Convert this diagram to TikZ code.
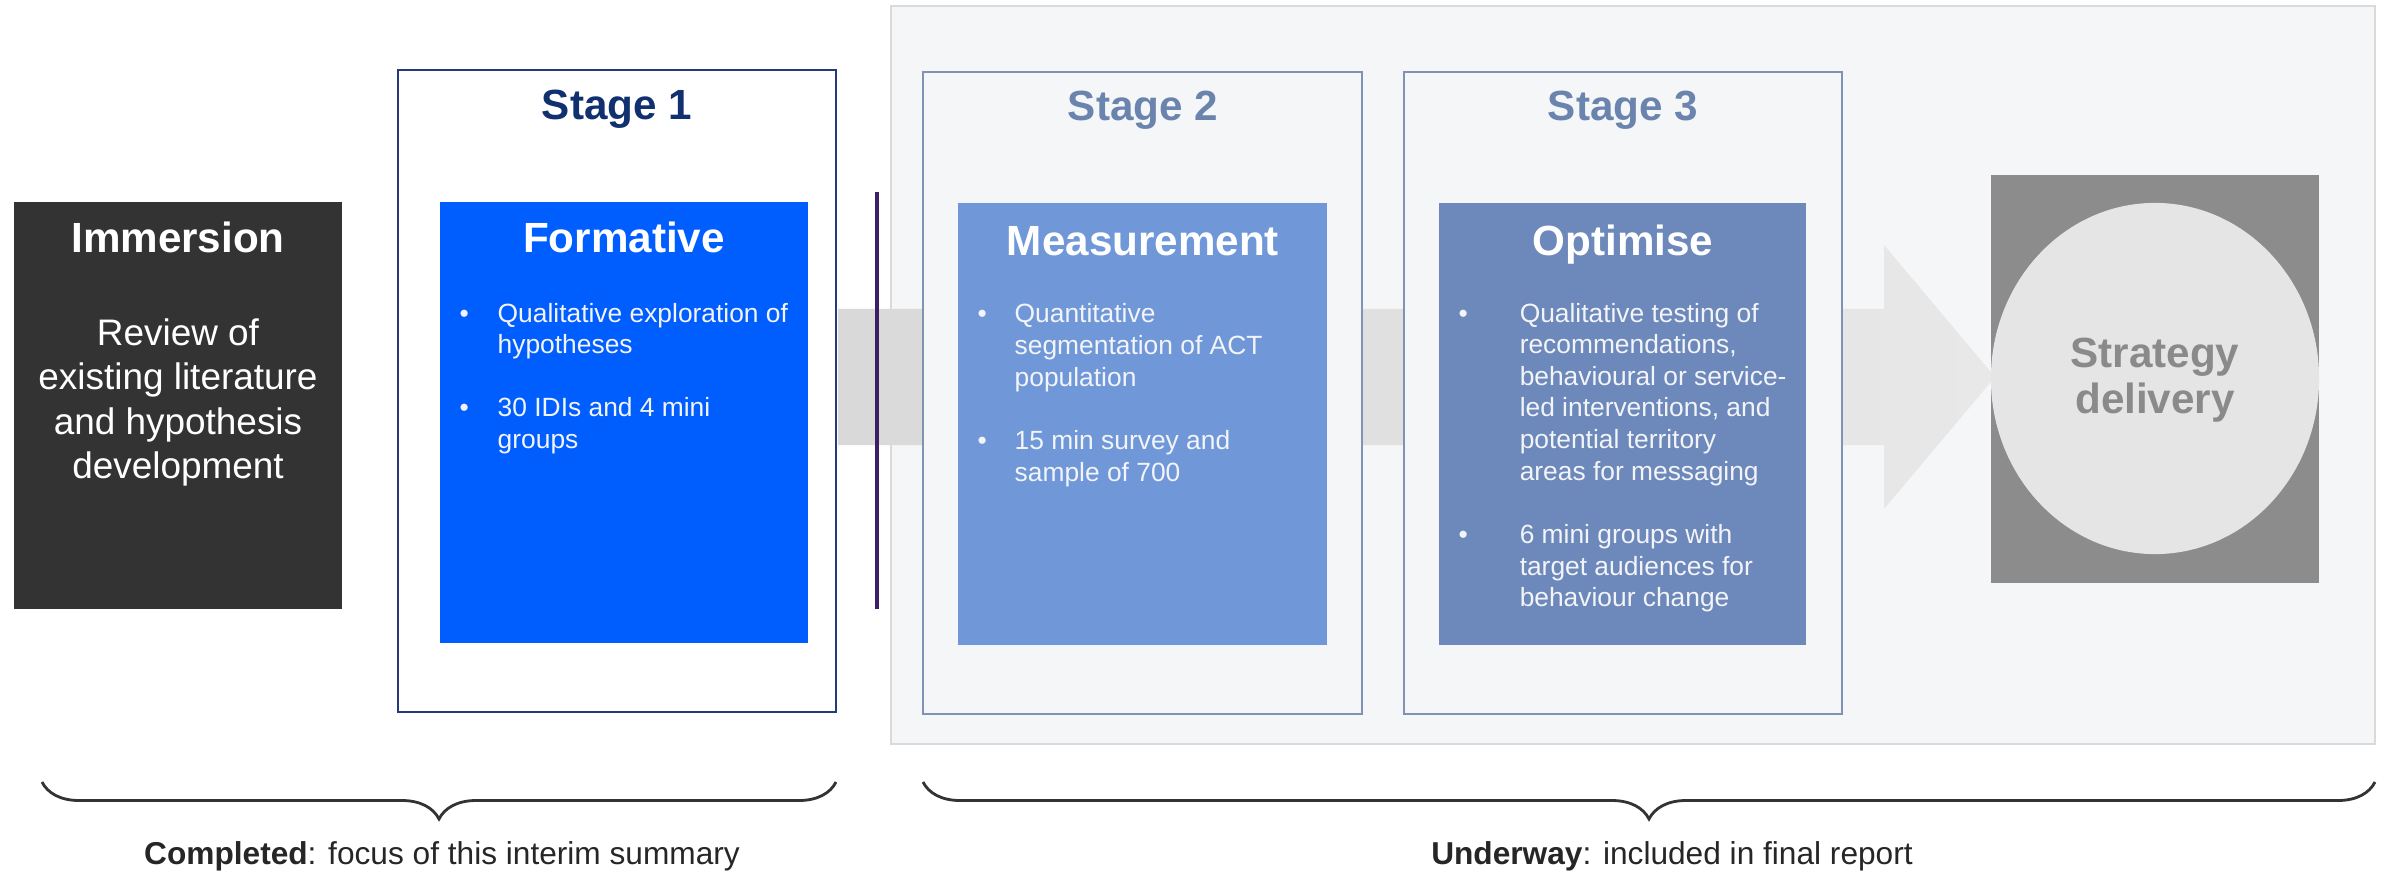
\documentclass[tikz,border=0pt]{standalone}
\usepackage{fontspec}
\setmainfont{Liberation Sans}
\usetikzlibrary{decorations.pathreplacing}

\definecolor{immgrey}{HTML}{333333}
\definecolor{formblue}{HTML}{005EFF}
\definecolor{navy}{HTML}{10306F}
\definecolor{navyline}{HTML}{26397A}
\definecolor{stagegrey}{HTML}{6A84AE}
\definecolor{stageline}{HTML}{8093B4}
\definecolor{measblue}{HTML}{7098D8}
\definecolor{optblue}{HTML}{6D88BA}
\definecolor{panelfill}{HTML}{F5F6F7}
\definecolor{panelline}{HTML}{DADADA}
\definecolor{banddark}{HTML}{D9D9D9}
\definecolor{bandlight}{HTML}{E8E8E8}
\definecolor{stratgrey}{HTML}{8C8C8C}
\definecolor{stratlight}{HTML}{E5E5E5}
\definecolor{stratText}{HTML}{8A8A8A}
\definecolor{divider}{HTML}{3D2060}
\definecolor{listwhite}{HTML}{F2F4F8}

\newcommand{\titlefont}{\fontsize{12}{13.2}\selectfont\bfseries}
\newcommand{\listfont}{\fontsize{7.5}{9}\selectfont}
\newcommand{\bodyfont}{\fontsize{10.5}{12.7}\selectfont}
\newcommand{\notefont}{\fontsize{9}{11}\selectfont}

\begin{document}
\begin{tikzpicture}[x=0.01cm,y=-0.01cm,
    title/.style={font=\titlefont, anchor=base, inner sep=0pt},
    list/.style={font=\listfont, text=listwhite, anchor=base west, inner sep=0pt},
    note/.style={font=\notefont, text=black!85, anchor=base, inner sep=0pt},
    frame/.style={line width=0.8pt}]
  \useasboundingbox (0,0) rectangle (2387,873);

  \draw[panelline, fill=panelfill, line width=0.6pt] (891,6) rectangle (2375,744);
  \shade[left color=banddark, right color=bandlight] (838,309) -- (1884,309) -- (1884,245) -- (1995,377)
    -- (1884,509) -- (1884,445) -- (838,445) -- cycle;

  \draw[frame, navyline, fill=white] (398,70) rectangle (836,712);
  \draw[frame, stageline, fill=panelfill] (923,72) rectangle (1362,714);
  \draw[frame, stageline, fill=panelfill] (1404,72) rectangle (1842,714);

  \fill[immgrey] (14,202) rectangle (342,609);
  \fill[formblue] (440,202) rectangle (808,643);
  \fill[measblue] (958,203) rectangle (1327,645);
  \fill[optblue] (1439,203) rectangle (1806,645);
  \draw[divider, line width=1.2pt] (877,192) -- (877,609);

  \fill[stratgrey] (1991,175) rectangle (2319,583);
  \fill[stratlight] (2155,378.5) ellipse [x radius=1.64cm, y radius=1.755cm];

  \node[title, text=navy] (stage1) at (617,120) {Stage 1};
  \node[title, text=stagegrey] (stage2) at (1143,121) {Stage 2};
  \node[title, text=stagegrey] (stage3) at (1623,121) {Stage 3};

  \node[title, text=white] (immersion) at (178,253) {Immersion};
  \node[font=\bodyfont, text=white, anchor=base, inner sep=0pt] (review) at (178,345)
    {\begin{tabular}[t]{@{}c@{}}Review of\\existing literature\\and hypothesis\\development\end{tabular}};

  \node[title, text=white] (formative) at (624,253) {Formative};
  \node[list] (formlist) at (459,322) {\begin{tabular}[t]{@{}p{0.38cm}@{}l@{}}
    \textbullet & Qualitative exploration of\\ & hypotheses\\[9pt]
    \textbullet & 30 IDIs and 4 mini\\ & groups\end{tabular}};

  \node[title, text=white] (measurement) at (1143,255) {Measurement};
  \node[list] (measlist) at (977,323) {\begin{tabular}[t]{@{}p{0.37cm}@{}l@{}}
    \textbullet & Quantitative\\ & segmentation of ACT\\ & population\\[9pt]
    \textbullet & 15 min survey and\\ & sample of 700\end{tabular}};

  \node[title, text=white] (optimise) at (1623,255) {Optimise};
  \node[list] (optlist) at (1458,322) {\begin{tabular}[t]{@{}p{0.61cm}@{}l@{}}
    \textbullet & Qualitative testing of\\ & recommendations,\\ & behavioural or service-\\
    & led interventions, and\\ & potential territory\\ & areas for messaging\\[9pt]
    \textbullet & 6 mini groups with\\ & target audiences for\\ & behaviour change\end{tabular}};

  \node[font=\titlefont, text=stratText, anchor=base, inner sep=0pt] (strategy) at (2155,367)
    {\begin{tabular}[t]{@{}c@{}}Strategy\\delivery\end{tabular}};

  \coordinate (doneL) at (42,782);
  \coordinate (doneR) at (836,782);
  \coordinate (nextL) at (923,782);
  \coordinate (nextR) at (2375,782);
  \draw[decorate, decoration={brace, mirror, amplitude=0.37cm}, line width=0.8pt, black!80] (doneL) -- (doneR);
  \draw[decorate, decoration={brace, mirror, amplitude=0.37cm}, line width=0.8pt, black!80] (nextL) -- (nextR);

  \node[note] (completed) at (442,864) {\textbf{Completed}: focus of this interim summary};
  \node[note] (underway) at (1672,864) {\textbf{Underway}: included in final report};
\end{tikzpicture}
\end{document}
